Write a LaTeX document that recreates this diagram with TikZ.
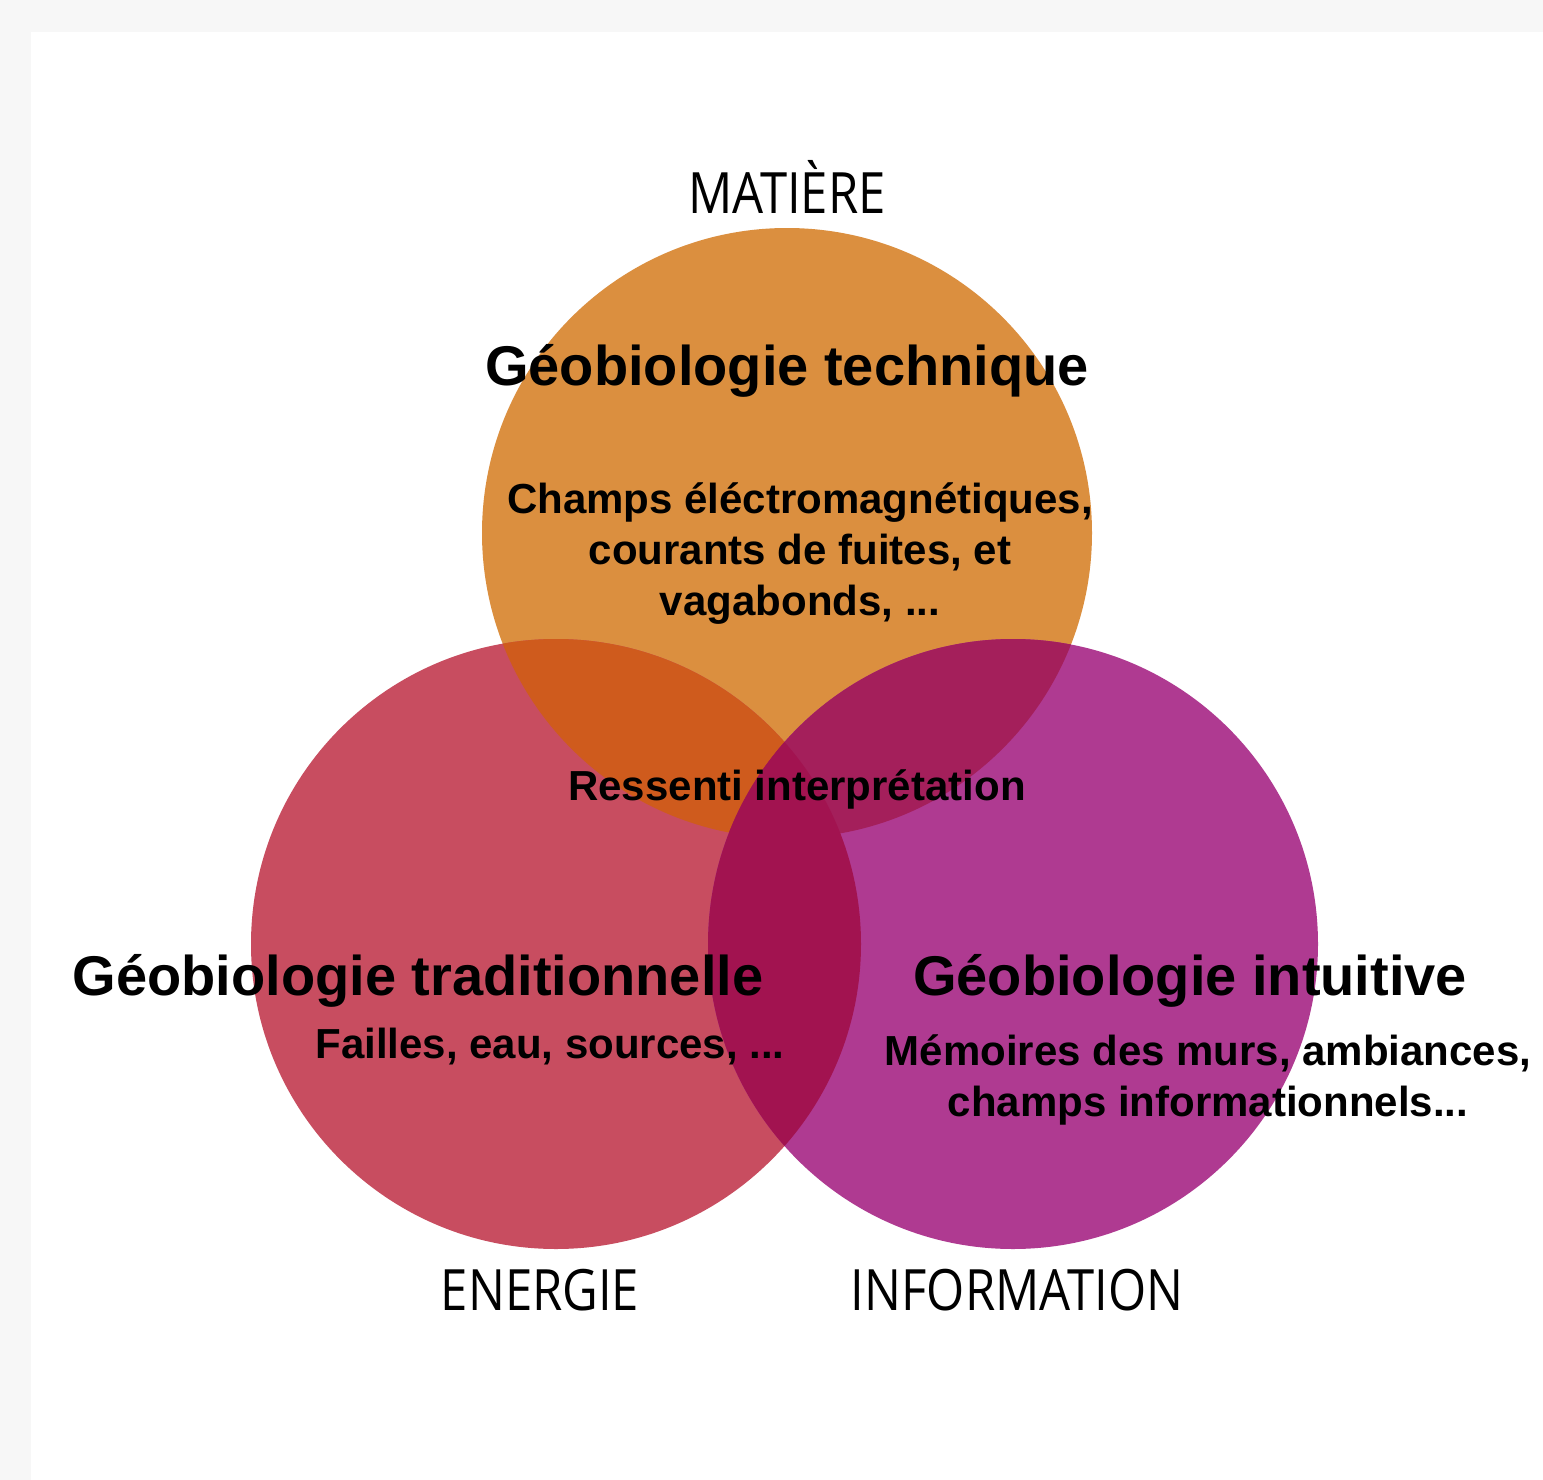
\documentclass[tikz,border=0pt]{standalone}
\usepackage{fontspec}
\usepackage{graphicx}
\setmainfont{Liberation Sans}
\newfontfamily\labelfont{Open Sans}

\definecolor{pagegray}{HTML}{F7F7F7}
\definecolor{matcol}{HTML}{DB8F3F}
\definecolor{enecol}{HTML}{C84D60}
\definecolor{infcol}{HTML}{AF3A91}
\definecolor{matene}{HTML}{CF5B1D}
\definecolor{matinf}{HTML}{A41F5B}
\definecolor{eneinf}{HTML}{A21350}

\tikzset{
  title/.style={inner sep=0pt, anchor=base, font=\bfseries\fontsize{56}{60}\selectfont},
  body/.style={inner sep=0pt, font=\bfseries\fontsize{42}{51}\selectfont, align=center},
  axis label/.style={inner sep=0pt, anchor=base, font=\labelfont\fontsize{57}{60}\selectfont},
}
\newcommand{\narrow}[1]{\scalebox{0.86}[1]{#1}}

\begin{document}
\begin{tikzpicture}[x=1pt,y=-1pt]
  % page and panel
  \fill[pagegray] (0,0) rectangle (1543,1480);
  \fill[white] (31,32) rectangle (1543,1480);
  \useasboundingbox (0,0) rectangle (1543,1480);

  % circle centres
  \def\rad{305}
  \coordinate (T) at (787,533);
  \coordinate (L) at (556,944);
  \coordinate (R) at (1013,944);

  % the three sets
  \fill[matcol] (T) circle[radius=\rad];
  \fill[enecol] (L) circle[radius=\rad];
  \fill[infcol] (R) circle[radius=\rad];

  % overlaps
  \begin{scope}
    \clip (T) circle[radius=\rad];
    \fill[matene] (L) circle[radius=\rad];
  \end{scope}
  \begin{scope}
    \clip (T) circle[radius=\rad];
    \fill[matinf] (R) circle[radius=\rad];
  \end{scope}
  \begin{scope}
    \clip (L) circle[radius=\rad];
    \fill[eneinf] (R) circle[radius=\rad];
  \end{scope}

  % axis labels
  \node[axis label] (matiere) at (787,213) {\narrow{MATIÈRE}};
  \node[axis label] (energie) at (540,1310) {\narrow{ENERGIE}};
  \node[axis label] (information) at (1017,1310) {\narrow{INFORMATION}};

  % titles
  \node[title] (technique) at (787,385) {Géobiologie technique};
  \node[title] (traditionnelle) at (418,995) {Géobiologie traditionnelle};
  \node[title] (intuitive) at (1190,995) {Géobiologie intuitive};

  % descriptions
  \node[body, anchor=north] (champs) at (800,482)
    {Champs éléctromagnétiques,\\courants de fuites, et\\vagabonds, ...};
  \node[body, anchor=base] (ressenti) at (797,800) {Ressenti interprétation};
  \node[body, anchor=base] (failles) at (550,1058) {Failles, eau, sources, ...};
  \node[body, anchor=north] (memoires) at (1208,1034)
    {Mémoires des murs, ambiances,\\champs informationnels...};
\end{tikzpicture}
\end{document}
